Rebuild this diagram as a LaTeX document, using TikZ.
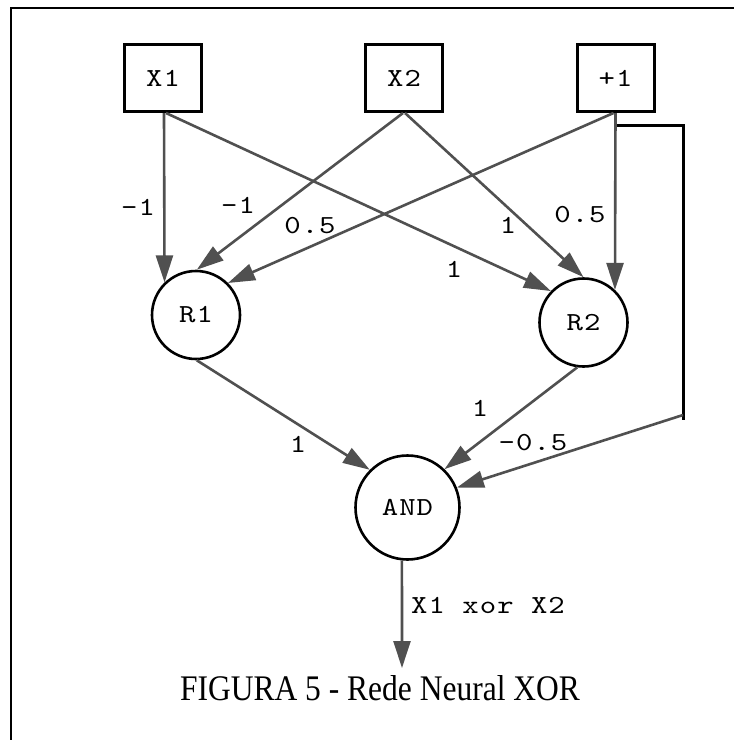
\documentclass[tikz,border=0pt]{standalone}
\usepackage{fontspec}
\setmainfont{Liberation Serif}
\newfontfamily\capfont{Liberation Serif}[FakeStretch=0.875]
\newfontfamily\lblfont{lmmono10-regular.otf}[FakeStretch=1.2,LetterSpace=4]
\usetikzlibrary{arrows.meta}
\definecolor{arrgray}{HTML}{505050}
\tikzset{
  inbox/.style={draw=black, line width=3pt, minimum width=77pt, minimum height=67pt, inner sep=0pt, font=\lblfont\fontsize{26}{31}\selectfont},
  neuron/.style={draw=black, circle, line width=2.6pt, inner sep=0pt, font=\lblfont\fontsize{26}{31}\selectfont},
  conn/.style={draw=arrgray, line width=2.6pt, -{Triangle[length=27pt,width=17pt]}},
  wlabel/.style={inner sep=0pt, font=\lblfont\fontsize{26}{31}\selectfont},
  bline/.style={draw=black, line width=3pt}
}
\begin{document}
\begin{tikzpicture}[x=1pt,y=-1pt]
\useasboundingbox (0,0) rectangle (734,740);
% frame
\draw[line width=1.4pt] (11,740) -- (11,8) -- (734,8);
% input boxes
\node[inbox] (X1) at (163,78) {X1};
\node[inbox] (X2) at (404,78) {X2};
\node[inbox] (P1) at (615.5,78) {+1};
% neurons
\node[neuron, minimum size=88pt] (R1) at (196,315) {R1};
\node[neuron, minimum size=88pt] (R2) at (583.5,322.5) {R2};
\node[neuron, minimum size=104pt] (AND) at (407.5,507.5) {AND};
% bias wire
\coordinate (bc1) at (683,125);
\coordinate (bc2) at (683,420);
\coordinate (bs) at (683,415);
\coordinate (out) at (402,668);
\draw[bline] (P1.south) |- (bc1) -- (bc2);
% connections
\draw[conn] ([xshift=1pt]X1.south) -- (R1.134);
\draw[conn] ([xshift=3pt]X1.south) -- (R2.136);
\draw[conn] ([xshift=-1pt]X2.south) -- (R1.89);
\draw[conn] ([xshift=1pt]X2.south) -- (R2.90.6);
\draw[conn] ([xshift=-2pt]P1.south) -- (R1.45);
\draw[conn] (P1.south) -- (R2.46);
\draw[conn] (R1.271) -- (AND.135);
\draw[conn] (R2.262) -- (AND.46.5);
\draw[conn] (bs) -- (AND.22.6);
\draw[conn] (AND.264) -- (out);
% weight labels
\node[wlabel] (w1) at (138,207) {-1};
\node[wlabel] (w2) at (238,205) {-1};
\node[wlabel] (w3) at (310,226) {0.5};
\node[wlabel] (w4) at (508,225) {1};
\node[wlabel] (w5) at (580,215) {0.5};
\node[wlabel] (w6) at (454,269) {1};
\node[wlabel] (w7) at (298,444) {1};
\node[wlabel] (w8) at (480,408) {1};
\node[wlabel] (w9) at (533,443) {-0.5};
\node[wlabel, anchor=base west] (wout) at (411,613) {X1 xor X2};
% caption
\node[inner sep=0pt, anchor=base, font=\capfont\fontsize{36}{42}\selectfont] (cap) at (380,700) {FIGURA 5 - Rede Neural XOR};
\end{tikzpicture}
\end{document}
